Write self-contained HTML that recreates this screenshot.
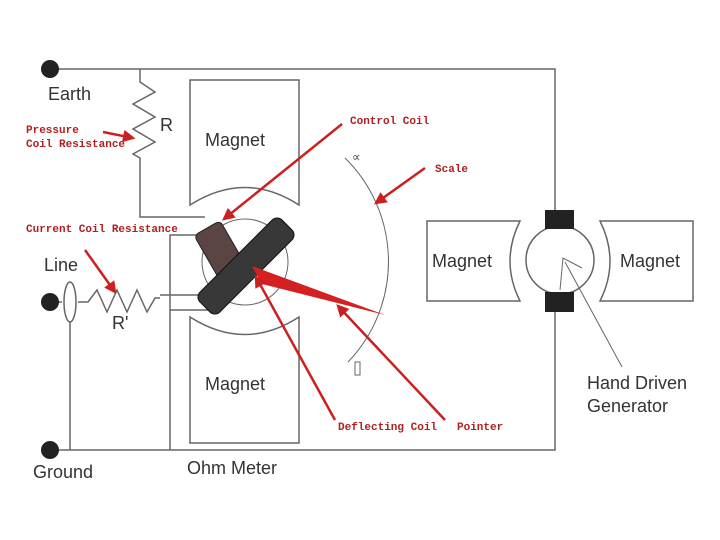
<!DOCTYPE html>
<html><head><meta charset="utf-8"><style>
html,body{margin:0;padding:0;background:#fff;width:720px;height:540px;overflow:hidden}
svg{display:block}
.k{font-family:"Liberation Sans",sans-serif;fill:#333;font-size:18px}
.r{font-family:"Liberation Mono",monospace;fill:#b02020;font-size:11px;font-weight:bold}
</style></head><body>
<svg width="720" height="540" viewBox="0 0 720 540" xmlns="http://www.w3.org/2000/svg">
<defs><marker id="a" markerWidth="5" markerHeight="5" refX="4" refY="2.5" orient="auto"><path d="M0,0 L5,2.5 L0,5 Z" fill="#cc2020"/></marker></defs>
<g fill="none" stroke="#666" stroke-width="1.5">
<path d="M50,69 H555 V210"/>
<path d="M140,69 V82 L155,92 L133,104 L155,117 L133,129 L155,142 L133,154 L140,158 V217 H205"/>
<path d="M190,80 H299 V205 Q245,170 190,205 Z"/>
<path d="M190,317 Q245,352 299,317 V443 H190 Z"/>
<circle cx="245" cy="262" r="43" stroke-width="1"/>
<path d="M205,235 H170 V450"/>
<path d="M160,295 H215 M170,310 H215"/>
<path d="M50,302 H62 M78,302 H88 L97,290 L107,312 L117,290 L127,312 L137,290 L147,312 L155,298 H160"/>
<ellipse cx="70" cy="302" rx="6" ry="20"/>
<path d="M70,322 V450"/>
<path d="M50,450 H555 V312"/>
<path d="M345,158 A145,145 0 0 1 348,362" stroke-width="1"/>
<rect x="355" y="362" width="5" height="13" stroke-width="1"/>
<circle cx="560" cy="260" r="34"/>
<path d="M427,221 H520 Q500,261 520,301 H427 Z"/>
<path d="M693,221 H600 Q620,261 600,301 H693 Z"/>
<path d="M560,290 L563,258 L582,268 M565,262 L622,367" stroke-width="1"/>
</g>
<rect x="545" y="210" width="29" height="19" fill="#222"/>
<rect x="545" y="292" width="29" height="20" fill="#222"/>
<circle cx="50" cy="69" r="9" fill="#222"/>
<circle cx="50" cy="302" r="9" fill="#222"/>
<circle cx="50" cy="450" r="9" fill="#222"/>
<rect x="-15" y="-30" width="30" height="64" rx="5" fill="#5a4444" stroke="#222" transform="translate(222,254) rotate(-30)"/>
<rect x="-14" y="-58" width="28" height="116" rx="7" fill="#383838" stroke="#111" transform="translate(246,266) rotate(45)"/>
<path d="M252,266 L262,284 L385,315 Z" fill="#d42020"/>
<g stroke="#cc2020" stroke-width="2.5" fill="none" marker-end="url(#a)">
<path d="M103,132 L133,138"/>
<path d="M342,124 L224,219"/>
<path d="M425,168 L376,203"/>
<path d="M85,250 L115,292"/>
<path d="M335,420 L256,277"/>
<path d="M445,420 L338,306"/>
</g>
<text class="k" x="48" y="100">Earth</text>
<text class="k" x="160" y="131">R</text>
<text class="k" x="205" y="146">Magnet</text>
<text class="k" x="205" y="390">Magnet</text>
<text class="k" x="44" y="271">Line</text>
<text class="k" x="112" y="329">R'</text>
<text class="k" x="33" y="478">Ground</text>
<text class="k" x="187" y="474">Ohm Meter</text>
<text class="k" x="432" y="267">Magnet</text>
<text class="k" x="620" y="267">Magnet</text>
<text class="k" x="587" y="389">Hand Driven</text>
<text class="k" x="587" y="412">Generator</text>
<text x="352" y="161" font-family="DejaVu Sans,sans-serif" font-size="12" fill="#444">∝</text>
<text class="r" x="26" y="133">Pressure</text>
<text class="r" x="26" y="147">Coil Resistance</text>
<text class="r" x="350" y="124">Control Coil</text>
<text class="r" x="435" y="172">Scale</text>
<text class="r" x="26" y="232">Current Coil Resistance</text>
<text class="r" x="338" y="430">Deflecting Coil</text>
<text class="r" x="457" y="430">Pointer</text>
</svg>
</body></html>
